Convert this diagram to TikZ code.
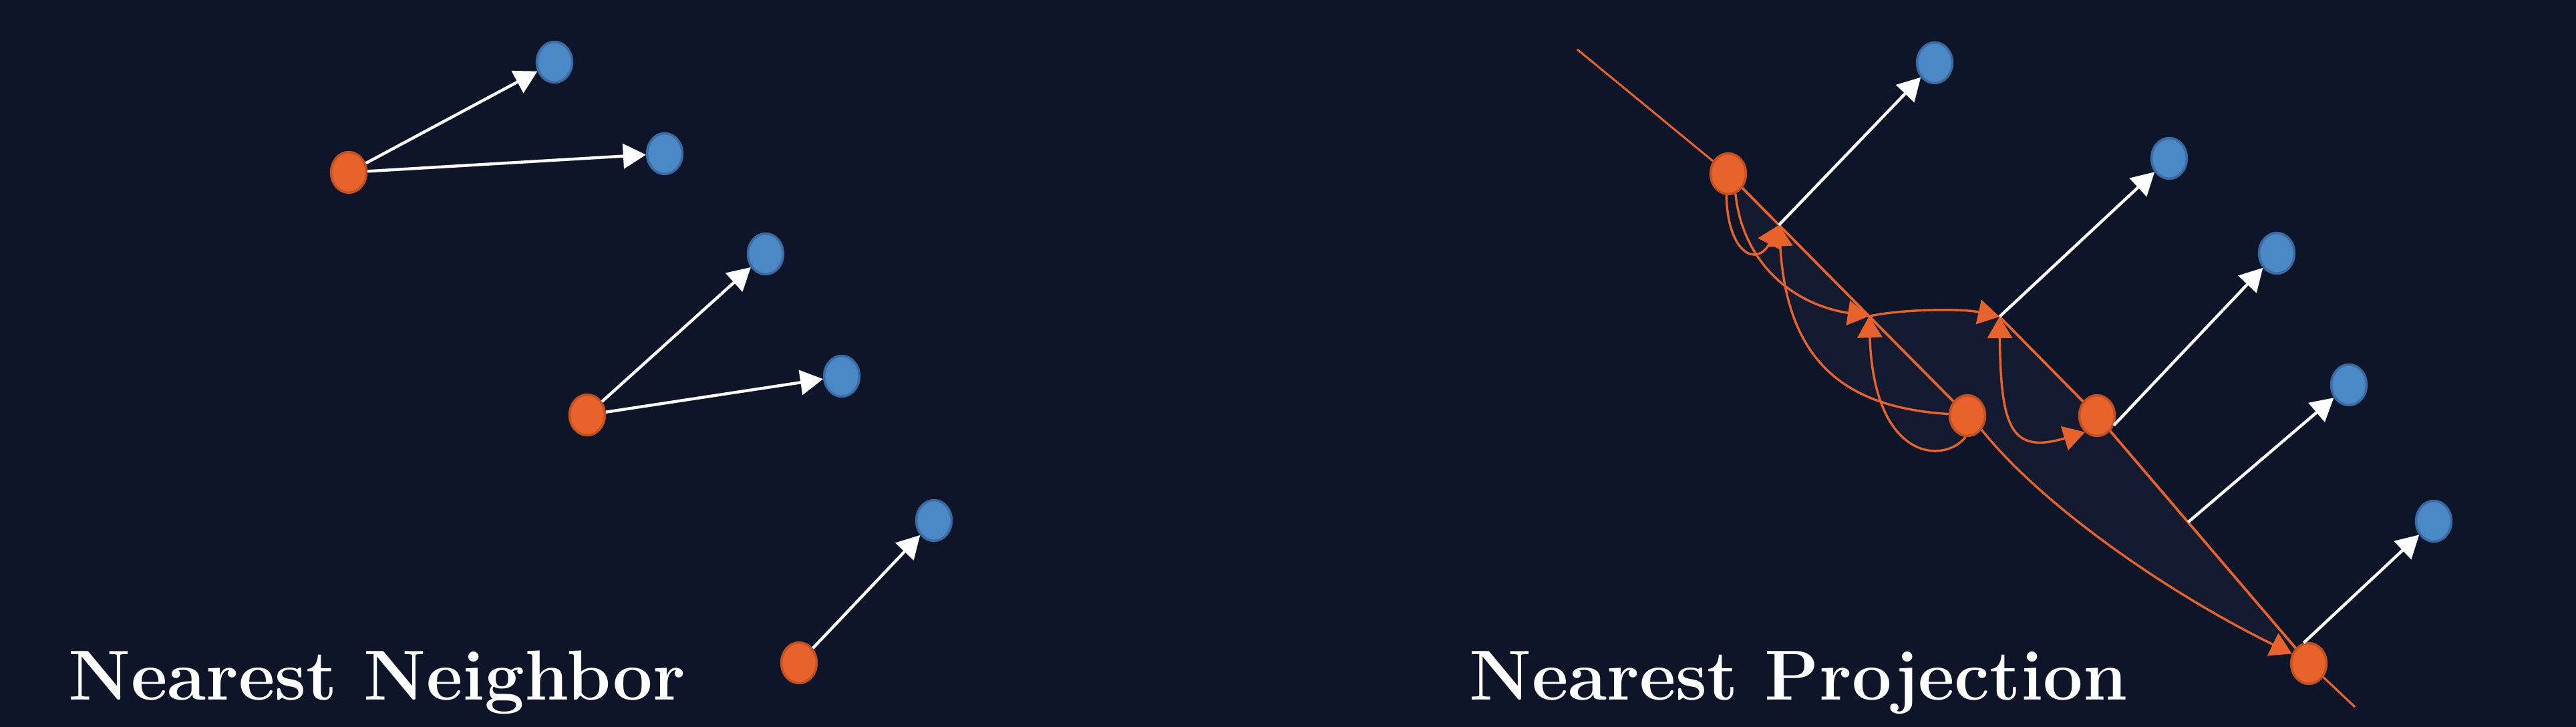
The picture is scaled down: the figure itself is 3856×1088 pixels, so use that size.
\documentclass[tikz,border=0pt]{standalone}
\usetikzlibrary{arrows.meta,shapes.geometric,calc}
\pgfdeclarelayer{background}
\pgfsetlayers{background,main}
\definecolor{bg}{HTML}{0E1529}
\definecolor{bgl}{HTML}{141A30}
\definecolor{org}{HTML}{E8632B}
\definecolor{orgd}{HTML}{C4501F}
\definecolor{blu}{HTML}{4A89C6}
\definecolor{blud}{HTML}{3A6BA3}
\begin{document}
\begin{tikzpicture}[x=0.25pt,y=-0.25pt,
  odot/.style={ellipse,draw=orgd,fill=org,line width=0.9pt,minimum width=13.2pt,minimum height=15.2pt,inner sep=0pt},
  bdot/.style={ellipse,draw=blud,fill=blu,line width=0.9pt,minimum width=13.2pt,minimum height=15.2pt,inner sep=0pt},
  warr/.style={draw=white,line width=1.1pt,-{Triangle[length=8.5pt,width=9.25pt]}},
  oline/.style={draw=org,line width=0.95pt},
  otip/.style={-{Triangle[length=8pt,width=9.25pt]}},
  oarr/.style={draw=org,line width=0.85pt,otip},
  title/.style={text=white,font=\fontsize{26.5}{30}\selectfont\bfseries,inner sep=0pt,anchor=base west}]
\useasboundingbox (0,0) rectangle (3856,1088);
% nodes, left panel
\node[odot] (oA) at (522,258) {};
\node[bdot] (bA1) at (830,93) {};
\node[bdot] (bA2) at (995,230) {};
\node[odot] (oC) at (879,621) {};
\node[bdot] (bC1) at (1146,380) {};
\node[bdot] (bC2) at (1260,563) {};
\node[odot] (oD) at (1196,992) {};
\node[bdot] (bD) at (1398,779) {};
% nodes, right panel
\node[odot] (oP1) at (2587,260) {};
\node[odot] (oP2) at (2945,622) {};
\node[odot] (oP3) at (3139,622) {};
\node[odot] (oP4) at (3456,993) {};
\node[bdot] (bQ1) at (2896,94) {};
\node[bdot] (bQ2) at (3247,237) {};
\node[bdot] (bQ3) at (3408,379) {};
\node[bdot] (bQ4) at (3516,576) {};
\node[bdot] (bQ5) at (3643,780) {};
\coordinate (s) at (2361,74);
\coordinate (e) at (3525,1058);
\coordinate (X1) at ($(oP1)!0.212!(oP2)$);
\coordinate (X2) at ($(oP1)!0.589!(oP2)$);
\coordinate (X3) at (2993,474);
\coordinate (X4) at ($(oP3)!0.43!(oP4)$);
% background
\begin{pgfonlayer}{background}
\fill[bg] (0,0) rectangle (3856,1088);
\fill[bgl] (oP1.center) -- (X2) .. controls (2680,455) and (2608,390) .. (oP1.-70) -- cycle;
\fill[bgl] (X1) -- (oP2.center) -- (oP2.175) .. controls (2760,610) and (2675,540) .. (X1) -- cycle;
\fill[bgl] (X2) -- (oP2.center) -- (oP2.-95) .. controls (2910,695) and (2805,690) .. (X2) -- cycle;
\fill[bgl] (X2) .. controls (2850,462) and (2940,462) .. (X3) -- (oP3.center) -- (oP4.center) -- (oP4.150) .. controls (3250,890) and (3060,760) .. (oP2.-45) -- (oP2.center) -- cycle;
\end{pgfonlayer}
% main projection line
\draw[oline,line width=0.75pt] (s) -- (oP1);
\draw[oline] (oP1) -- (oP2);
\draw[oline] (X3) -- (oP3);
\draw[oline] (oP3) -- (oP4);
\draw[oline,line width=0.8pt] (oP4) -- (e);
% white arrows
\draw[warr] (oA) -- (bA1);
\draw[warr] (oA) -- (bA2);
\draw[warr] (oC) -- (bC1);
\draw[warr] (oC) -- (bC2);
\draw[warr] (oD) -- (bD);
\draw[warr] (X1) -- (bQ1);
\draw[warr] (X3) -- (bQ2);
\draw[warr] (oP3.-30) -- (bQ3);
\draw[warr] (X4) -- (bQ4);
\draw[warr] (oP4.104) -- (bQ5);
% orange curves
\draw[oarr] (oP1.-95) .. controls (2586,380) and (2630,400) .. (X1);
\draw[oarr] (oP1.-70) .. controls (2608,390) and (2680,455) .. (X2);
\draw[oarr] (oP2.175) .. controls (2760,610) and (2675,540) .. (X1);
\draw[oarr] (oP2.-95) .. controls (2910,695) and (2805,690) .. (X2);
\draw[oarr] (X2) .. controls (2850,462) and (2940,462) .. (X3);
\draw[draw=org,line width=0.85pt,{Triangle[length=8pt,width=9.25pt]}-{Triangle[length=8pt,width=9.25pt]}] (X3) .. controls (2995,640) and (3010,680) .. (oP3.234);
\draw[oarr] (oP2.-45) .. controls (3060,760) and (3250,890) .. (oP4.150);
% titles
\node[title] (t1) at (102,1048) {Nearest Neighbor};
\node[title] (t2) at (2199,1048) {Nearest Projection};
\end{tikzpicture}
\end{document}
